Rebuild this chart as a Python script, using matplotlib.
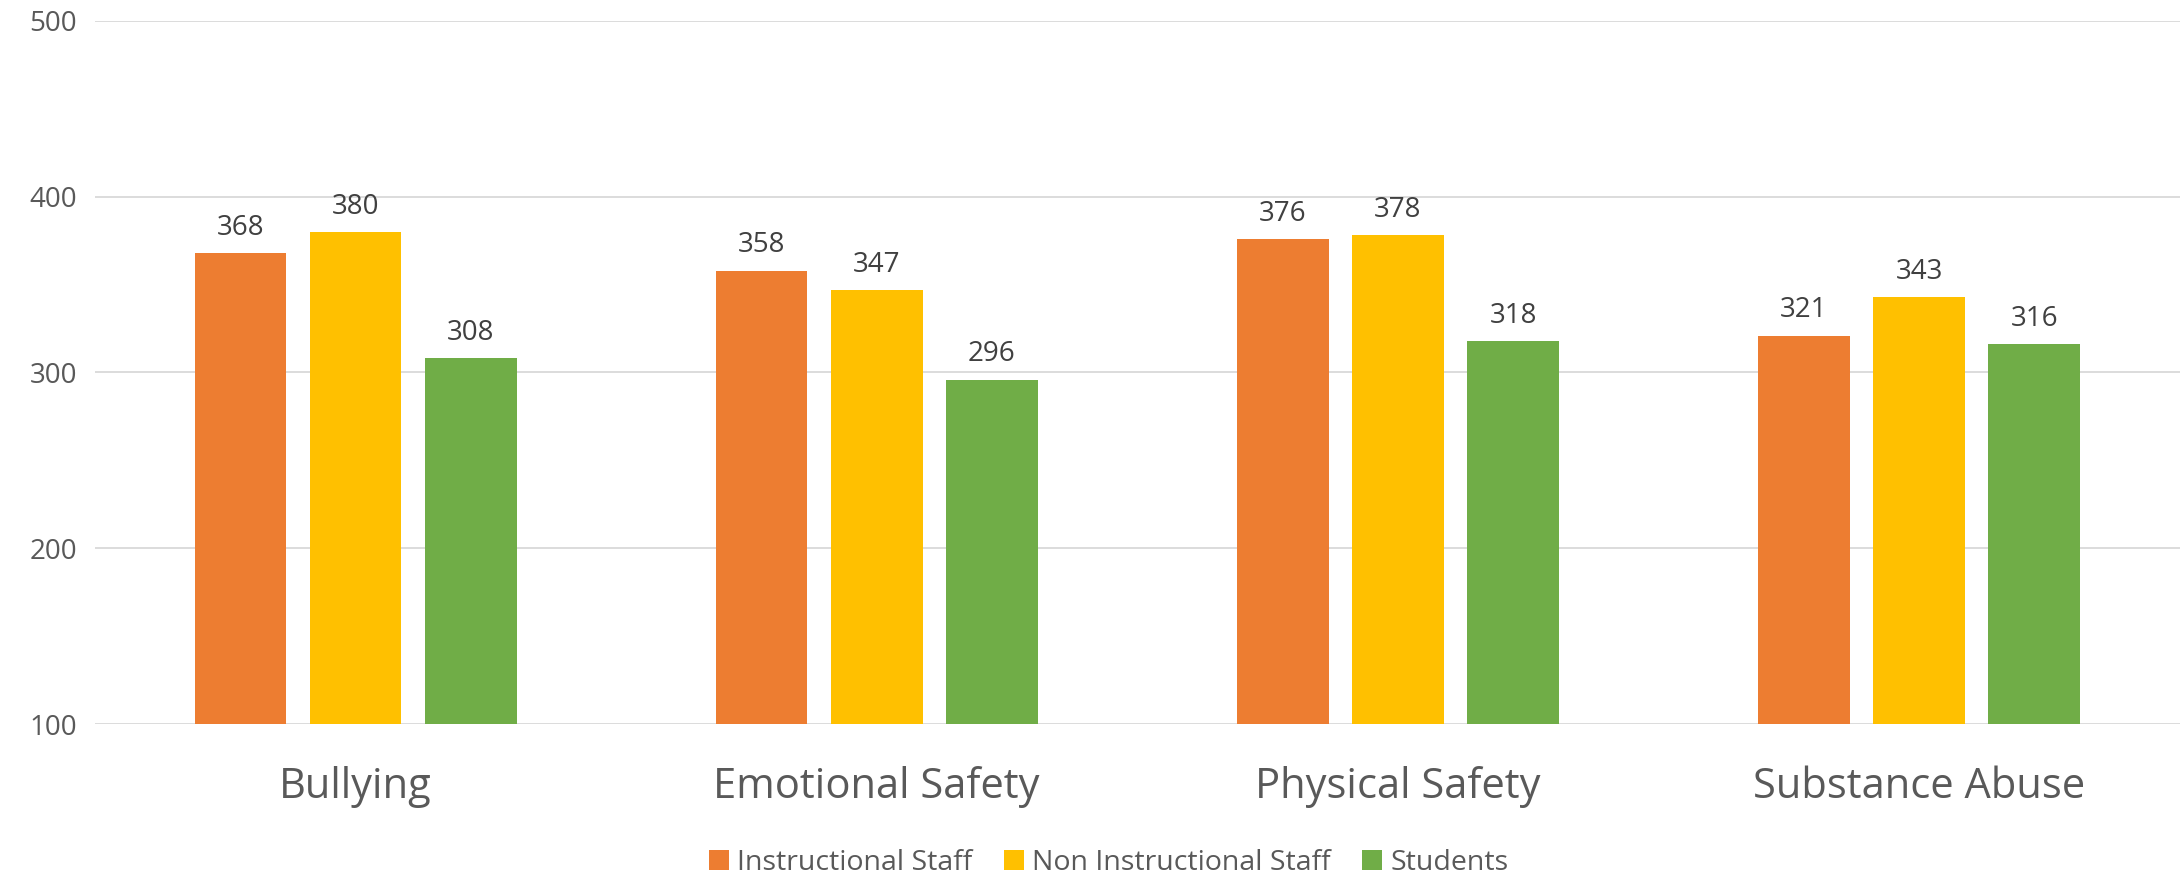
import numpy as np
import matplotlib
matplotlib.use("Agg")
from matplotlib import pyplot as plt

# data
categories = ["Bullying", "Emotional Safety", "Physical Safety", "Substance Abuse"]
series_names = ["Instructional Staff", "Non Instructional Staff", "Students"]
instructional = [368, 358, 376, 321]
non_instructional = [380, 347, 378, 343]
students = [308, 296, 318, 316]

colors = ["#ED7D31", "#FFC000", "#70AD47"]
plt.rcParams['font.family'] = ['Open Sans', 'DejaVu Sans']

fig = plt.figure(figsize=(21.83, 8.74), dpi=100)
ax = fig.add_axes([0.0435, 0.1716, 0.955, 0.8044])

x = np.arange(len(categories))
width = 0.176
step = 0.221
for i, (vals, name) in enumerate(zip([instructional, non_instructional, students], series_names)):
    bars = ax.bar(x + (i - 1) * step, vals, width, color=colors[i], label=name, zorder=3)
    for b, v in zip(bars, vals):
        ax.annotate(str(v), (b.get_x() + b.get_width() / 2, v), xytext=(0, 8),
                    textcoords="offset points", ha="center", va="bottom",
                    fontsize=20, color="#404040")

ax.set_ylim(100, 500)
ax.set_xlim(-0.5, 3.5)
ax.set_yticks([100, 200, 300, 400, 500])
ax.yaxis.grid(True, color="#D9D9D9", linewidth=1.3, zorder=0)
ax.set_axisbelow(True)
for s in ax.spines.values():
    s.set_visible(False)
ax.tick_params(axis="y", length=0, labelsize=20, labelcolor="#595959", pad=13)
ax.tick_params(axis="x", length=0, labelsize=30, labelcolor="#595959", pad=30)
ax.set_xticks(x)
ax.set_xticklabels(categories)

# legend centred on the whole figure, like Excel does
fig.legend(*ax.get_legend_handles_labels(), loc="center", bbox_to_anchor=(0.508, 0.013),
           ncol=3, frameon=False, fontsize=20.5, labelcolor="#595959",
           handlelength=0.7, handleheight=0.7, handletextpad=0.3, columnspacing=1.1)

fig.savefig("out.png", dpi=100)
